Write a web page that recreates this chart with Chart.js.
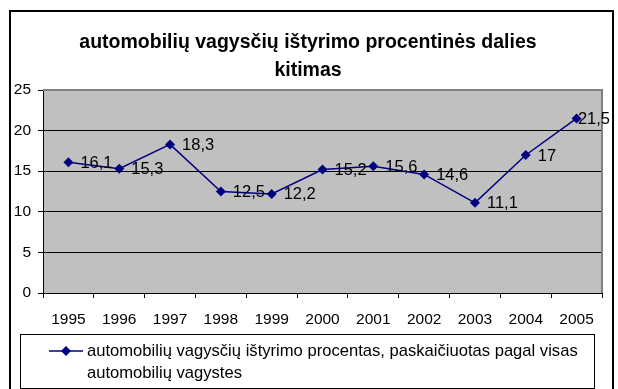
<!DOCTYPE html>
<html>
<head>
<meta charset="utf-8">
<script src="https://cdn.jsdelivr.net/npm/chart.js@4"></script>
<style>
  html, body { margin: 0; padding: 0; background: #fff; }
  #wrap { width: 618px; height: 389px; }
</style>
</head>
<body>
<div id="wrap"><canvas id="canva1" width="618" height="389"></canvas></div>
<script>
const years = ["1995", "1996", "1997", "1998", "1999", "2000", "2001", "2002", "2003", "2004", "2005"];
const percent = [16.1, 15.3, 18.3, 12.5, 12.2, 15.2, 15.6, 14.6, 11.1, 17, 21.5];
const yTicks = [0, 5, 10, 15, 20, 25];
const titleLines = ["automobilių vagysčių ištyrimo procentinės dalies", "kitimas"];
const legendLines = ["automobilių vagysčių ištyrimo procentas, paskaičiuotas pagal visas", "automobilių vagystes"];

const FONT = "'Liberation Sans', Arial, sans-serif";
const NAVY = "#000080";

// gray plot background, white page, frame around everything
const fondo = {
    id: "fondo",
    beforeDraw(chart){
        let c = chart.ctx;
        let a = chart.chartArea;
        c.save();
        c.fillStyle = "#fff";
        c.fillRect(0, 0, chart.width, chart.height);
        c.fillStyle = "#c0c0c0";
        c.fillRect(a.left, a.top, a.right - a.left, a.bottom - a.top);
        c.restore();
    },
    beforeDatasetsDraw(chart){
        let c = chart.ctx;
        let a = chart.chartArea;
        c.save();
        c.strokeStyle = "#808080";
        c.lineWidth = 2;
        c.beginPath();
        c.moveTo(a.left, a.top);
        c.lineTo(a.right, a.top);
        c.lineTo(a.right, a.bottom);
        c.stroke();
        c.restore();
    }
};

// value next to each point, decimal comma
const etiquetas = {
    id: "etiquetas",
    afterDatasetsDraw(chart){
        let c = chart.ctx;
        let meta = chart.getDatasetMeta(0);
        c.save();
        c.font = "16.5px " + FONT;
        c.fillStyle = "#000";
        c.textAlign = "left";
        c.textBaseline = "middle";
        meta.data.forEach(function(p, i){
            let txt = String(percent[i]).replace(".", ",");
            let w = c.measureText(txt).width;
            let x = Math.min(p.x + 12, 610 - w);
            c.fillText(txt, x, p.y + 1);
        });
        c.restore();
    }
};

// title, legend box and outer frame
const marco = {
    id: "marco",
    afterDraw(chart){
        let c = chart.ctx;
        c.save();
        c.fillStyle = "#000";
        c.textAlign = "center";
        c.textBaseline = "middle";
        c.font = "bold 19.5px " + FONT;
        c.fillText(titleLines[0], 308, 43);
        c.fillText(titleLines[1], 308, 71);

        c.strokeStyle = "#000";
        c.lineWidth = 1;
        c.strokeRect(20.5, 334.5, 574, 54);

        c.strokeStyle = NAVY;
        c.lineWidth = 1.5;
        c.beginPath();
        c.moveTo(49, 351);
        c.lineTo(83, 351);
        c.stroke();
        c.fillStyle = NAVY;
        c.beginPath();
        c.moveTo(66, 346);
        c.lineTo(71, 351);
        c.lineTo(66, 356);
        c.lineTo(61, 351);
        c.closePath();
        c.fill();

        c.fillStyle = "#000";
        c.textAlign = "left";
        c.font = "16.6px " + FONT;
        c.fillText(legendLines[0], 87, 351);
        c.fillText(legendLines[1], 87, 373);

        c.strokeStyle = "#000";
        c.lineWidth = 2;
        c.beginPath();
        c.moveTo(10, 400);
        c.lineTo(10, 11);
        c.lineTo(613, 11);
        c.lineTo(613, 400);
        c.stroke();
        c.restore();
    }
};

window.onload = function(){
    let ctx = document.getElementById("canva1").getContext("2d");
    let grafico = new Chart(ctx, {
        type: "line",
        data: {
            labels: years,
            datasets: [{
                label: legendLines.join(" "),
                data: percent,
                borderColor: NAVY,
                backgroundColor: NAVY,
                borderWidth: 1.5,
                pointStyle: "rectRot",
                pointRadius: 5,
                pointBorderWidth: 0,
                tension: 0
            }]
        },
        options: {
            responsive: false,
            animation: false,
            devicePixelRatio: 1,
            layout: { padding: { top: 90, right: 16, bottom: 0, left: 0 } },
            plugins: {
                legend: { display: false },
                title: { display: false },
                tooltip: { enabled: false }
            },
            scales: {
                x: {
                    offset: true,
                    afterFit(scale){ scale.height = 96; },
                    grid: { offset: true, drawOnChartArea: false, tickLength: 5, color: "#000" },
                    border: { color: "#000", width: 1 },
                    ticks: { color: "#000", padding: 12, font: { family: FONT, size: 15.5 }, maxRotation: 0 }
                },
                y: {
                    min: 0,
                    max: 25,
                    afterFit(scale){ scale.width = 43; },
                    afterBuildTicks(scale){ scale.ticks = yTicks.map(v => ({ value: v })); },
                    grid: {
                        color: c => c.tick && c.tick.value === 25 ? "#808080" : "#000",
                        tickColor: "#000",
                        tickLength: 5
                    },
                    border: { color: "#000", width: 1 },
                    ticks: { color: "#000", padding: 7, font: { family: FONT, size: 15.5 } }
                }
            }
        },
        plugins: [fondo, etiquetas, marco]
    });
}
</script>
</body>
</html>
